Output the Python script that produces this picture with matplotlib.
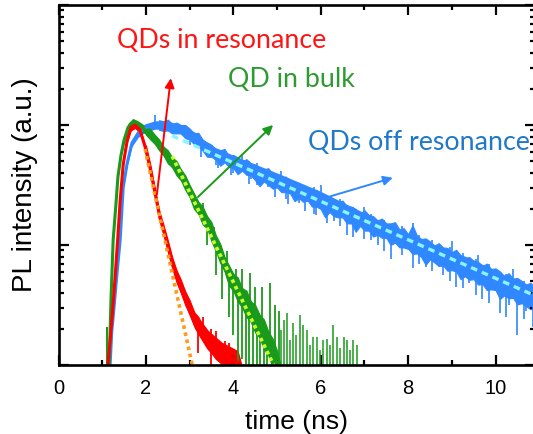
import numpy as np
import matplotlib
matplotlib.use("Agg")
import matplotlib.pyplot as plt

# PL-Abklingkurven, Werte als log10(Intensitaet) aus dem Bild abgelesen
# rot: QDs in Resonanz
t_red = [1.10, 1.13, 1.22, 1.29, 1.36, 1.41, 1.48, 1.57, 1.66, 1.75, 1.86, 1.98,
         2.09, 2.21, 2.32, 2.44, 2.60, 2.73, 2.89, 3.12, 3.42, 3.74, 4.11, 4.20]
red_log = [-2.2, -2.0, -1.63, -1.29, -0.92, -0.63, -0.33, -0.13, -0.02, 0.0, -0.04, -0.18,
           -0.35, -0.57, -0.77, -0.92, -1.15, -1.29, -1.43, -1.63, -1.79, -1.90, -1.98, -2.1]
red_spread = [0.02, 0.02, 0.02, 0.02, 0.02, 0.02, 0.02, 0.025, 0.03, 0.03, 0.03, 0.03,
              0.03, 0.03, 0.03, 0.035, 0.04, 0.05, 0.06, 0.07, 0.08, 0.09, 0.1, 0.1]
# verrauschter Bereich: obere / untere Kante
t_red_n = [2.0, 2.1, 2.2, 2.3, 2.4, 2.5, 2.6, 2.7, 2.8, 2.9, 3.0, 3.1,
           3.2, 3.3, 3.4, 3.5, 3.6, 3.7, 3.8, 3.9, 4.0, 4.1, 4.15]
red_hi = [-0.17, -0.33, -0.52, -0.71, -0.83, -0.96, -1.10, -1.21, -1.29, -1.39, -1.46, -1.56,
          -1.60, -1.68, -1.71, -1.76, -1.78, -1.83, -1.85, -1.90, -1.91, -1.95, -1.98]
red_lo = [-0.23, -0.40, -0.58, -0.78, -0.91, -1.05, -1.19, -1.31, -1.40, -1.50, -1.58, -1.67,
          -1.74, -1.80, -1.86, -1.90, -1.95, -1.98, -2.05, -2.05, -2.1, -2.1, -2.1]
red_spk_t = [3.2, 3.3, 3.5, 3.6, 3.8, 3.9, 4.0, 4.05, 4.15]
red_spk_lo = [-1.9, -1.75, -2.05, -1.85, -2.1, -1.95, -2.1, -2.05, -2.1]
red_spk_hi = [-1.62, -1.6, -1.7, -1.72, -1.8, -1.82, -1.88, -1.88, -1.95]
t_red_fit = [1.98, 3.06]
red_fit_log = [-0.2, -2.0]

# gruen: QD im Volumen
t_green = [1.14, 1.16, 1.20, 1.25, 1.32, 1.36, 1.43, 1.50, 1.59, 1.70, 1.82, 1.98, 2.21,
           2.51, 2.83, 3.12, 3.42, 3.70, 3.92, 4.15, 4.38, 4.61, 4.84, 5.02, 5.10]
green_log = [-2.2, -2.0, -1.46, -0.96, -0.63, -0.43, -0.25, -0.125, -0.02, 0.02, 0.0, -0.04, -0.125,
             -0.27, -0.43, -0.65, -0.82, -1.07, -1.27, -1.40, -1.54, -1.68, -1.85, -2.0, -2.1]
green_spread = [0.02, 0.02, 0.02, 0.02, 0.02, 0.02, 0.025, 0.03, 0.035, 0.035, 0.035, 0.035, 0.04,
                0.045, 0.05, 0.05, 0.055, 0.06, 0.07, 0.08, 0.09, 0.1, 0.1, 0.1, 0.1]
t_green_n = [2.0, 2.1, 2.2, 2.3, 2.4, 2.5, 2.6, 2.7, 2.8, 2.9, 3.0, 3.1, 3.2, 3.3, 3.4, 3.5,
             3.6, 3.7, 3.8, 3.9, 4.0, 4.1, 4.2, 4.3, 4.4, 4.5, 4.6, 4.7, 4.8, 4.9, 5.0]
green_hi = [-0.01, -0.035, -0.08, -0.12, -0.18, -0.21, -0.27, -0.30, -0.37, -0.42, -0.50, -0.57,
            -0.64, -0.68, -0.76, -0.81, -0.92, -0.99, -1.10, -1.17, -1.24, -1.27, -1.36, -1.38,
            -1.47, -1.50, -1.58, -1.62, -1.72, -1.78, -1.88]
green_lo = [-0.08, -0.12, -0.155, -0.21, -0.25, -0.32, -0.35, -0.42, -0.46, -0.54, -0.60, -0.70,
            -0.74, -0.83, -0.86, -0.97, -1.05, -1.15, -1.22, -1.34, -1.38, -1.47, -1.52, -1.60,
            -1.64, -1.73, -1.77, -1.87, -1.92, -2.02, -2.05]
green_spk_t = [3.3, 3.4, 3.55, 3.6, 3.75, 3.85, 3.9, 4.0, 4.05, 4.1, 4.2, 4.28, 4.36, 4.38,
               4.45, 4.5, 4.55, 4.62, 4.65, 4.7, 4.78, 4.84, 4.88, 4.95, 5.05]
green_spk_lo = [-0.8, -1.0, -1.0, -1.25, -1.45, -1.2, -1.6, -1.75, -1.35, -2.1, -1.95, -2.1, -2.1, -1.6,
                -2.1, -1.6, -2.1, -2.1, -1.75, -2.1, -2.1, -1.9, -2.1, -2.1, -2.1]
green_spk_hi = [-0.65, -0.8, -0.85, -1.05, -1.12, -1.05, -1.25, -1.3, -1.2, -1.35, -1.2, -1.45, -1.5, -1.23,
                -1.55, -1.35, -1.6, -1.65, -1.35, -1.7, -1.75, -1.32, -1.8, -1.5, -1.55]
green_tail_t = [5.09, 5.16, 5.23, 5.30, 5.37, 5.44, 5.53, 5.60, 5.69, 5.76, 5.82, 5.92, 5.99,
                6.06, 6.14, 6.21, 6.28, 6.37, 6.45, 6.53, 6.60, 6.67, 6.74, 6.83]
green_tail_top = [-1.71, -1.625, -1.57, -1.79, -1.65, -1.75, -1.58, -1.67, -1.71, -1.83, -1.77, -1.77, -1.875,
                  -1.79, -1.78, -1.83, -1.67, -1.77, -1.86, -1.77, -1.79, -1.875, -1.79, -1.83]
t_green_fit = [2.6, 4.95]
green_fit_log = [-0.26, -2.02]

# blau: QDs ausser Resonanz
t_blue = [1.16, 1.18, 1.22, 1.25, 1.34, 1.41, 1.45, 1.48, 1.57, 1.68, 1.82, 1.98, 2.21,
          2.44, 2.73, 3.12, 3.47, 4.15, 5.07, 5.98, 6.90, 7.88, 8.66, 9.42, 10.17, 10.95]
blue_log = [-2.2, -2.0, -1.71, -1.6, -1.23, -0.96, -0.71, -0.52, -0.32, -0.15, -0.07, -0.025, 0.0,
            0.0, -0.025, -0.1, -0.21, -0.32, -0.46, -0.60, -0.77, -0.96, -1.07, -1.18, -1.32, -1.44]
blue_spread = [0.02, 0.02, 0.02, 0.02, 0.02, 0.02, 0.02, 0.02, 0.025, 0.03, 0.035, 0.035, 0.035,
               0.035, 0.035, 0.04, 0.04, 0.045, 0.05, 0.05, 0.055, 0.06, 0.065, 0.07, 0.075, 0.08]
t_blue_n = [2.3, 2.4, 2.5, 2.6, 2.7, 2.8, 2.9, 3.0, 3.1, 3.2, 3.3, 3.4, 3.5, 3.6, 3.7, 3.8,
            3.9, 4.0, 4.1, 4.2, 4.3, 4.4, 4.5, 4.6, 4.7, 4.8, 4.9, 5.0, 5.1, 5.2, 5.3, 5.4,
            5.5, 5.6, 5.7, 5.8, 5.9, 6.0, 6.1, 6.2, 6.3, 6.4, 6.5, 6.6, 6.7, 6.8, 6.9, 7.0,
            7.1, 7.2, 7.3, 7.4, 7.5, 7.6, 7.7, 7.8, 7.9, 8.0, 8.1, 8.2, 8.3, 8.4, 8.5, 8.6,
            8.7, 8.8, 8.9, 9.0, 9.1, 9.2, 9.3, 9.4, 9.5, 9.6, 9.7, 9.8, 9.9, 10.0, 10.1, 10.2,
            10.3, 10.4, 10.5, 10.6, 10.7, 10.8, 10.9]
blue_hi = [0.04, 0.03, 0.045, 0.01, 0.02, 0.0, 0.0, -0.03, -0.07, -0.065, -0.125, -0.145, -0.165,
           -0.20, -0.21, -0.20, -0.26, -0.25, -0.27, -0.30, -0.285, -0.32, -0.33, -0.37, -0.37,
           -0.36, -0.41, -0.41, -0.44, -0.43, -0.48, -0.475, -0.50, -0.50, -0.52, -0.56, -0.54,
           -0.58, -0.59, -0.595, -0.64, -0.64, -0.63, -0.68, -0.68, -0.70, -0.74, -0.71, -0.75,
           -0.76, -0.795, -0.78, -0.82, -0.82, -0.81, -0.87, -0.86, -0.91, -0.835, -0.92, -0.95,
           -0.945, -0.97, -1.005, -0.985, -1.02, -1.025, -1.06, -1.04, -1.085, -1.11, -1.10,
           -1.135, -1.14, -1.175, -1.155, -1.20, -1.195, -1.22, -1.26, -1.235, -1.28, -1.275,
           -1.30, -1.33, -1.315, -1.35]
blue_lo = [-0.04, -0.05, -0.045, -0.07, -0.07, -0.07, -0.11, -0.12, -0.16, -0.175, -0.215, -0.265,
           -0.265, -0.29, -0.34, -0.31, -0.35, -0.36, -0.41, -0.38, -0.415, -0.42, -0.46, -0.51,
           -0.47, -0.50, -0.53, -0.52, -0.56, -0.56, -0.57, -0.635, -0.61, -0.64, -0.63, -0.68,
           -0.68, -0.70, -0.77, -0.725, -0.76, -0.77, -0.77, -0.82, -0.82, -0.89, -0.84, -0.88,
           -0.88, -0.93, -0.915, -0.94, -0.94, -1.00, -0.98, -1.02, -1.02, -1.03, -1.075, -1.07,
           -1.10, -1.165, -1.12, -1.145, -1.175, -1.17, -1.215, -1.21, -1.22, -1.285, -1.26,
           -1.29, -1.285, -1.33, -1.325, -1.375, -1.37, -1.375, -1.45, -1.42, -1.445, -1.44,
           -1.495, -1.485, -1.51, -1.535, -1.53]
blue_spk_t = [2.2, 3.0, 3.6, 4.0, 4.2, 4.4, 4.8, 5.1, 5.2, 5.5, 5.9, 6.0, 6.3, 6.6, 7.0,
              7.3, 7.6, 8.11, 8.4, 8.8, 9.0, 9.1, 9.4, 9.6, 9.7, 10.1, 10.3, 10.4, 10.5, 10.7,
              3.25, 3.65, 3.95, 4.35, 4.55, 4.95, 5.25, 5.65, 5.85, 6.15, 6.45, 6.75,
              7.15, 7.45, 7.85, 8.25, 8.55, 8.95, 9.25, 9.55, 9.85, 10.25, 10.65, 10.85]
blue_spk_lo = [0.0, -0.17, -0.33, -0.40, -0.33, -0.45, -0.52, -0.50, -0.62, -0.65, -0.75, -0.62, -0.80,
               -0.92, -0.95, -1.0, -1.12, -1.19, -1.18, -1.25, -1.12, -1.35, -1.32, -1.2, -1.45,
               -1.57, -1.50, -1.33, -1.75, -1.55,
               -0.27, -0.36, -0.42, -0.49, -0.50, -0.60, -0.66, -0.72, -0.74, -0.82, -0.84, -0.93,
               -0.96, -1.05, -1.08, -1.16, -1.22, -1.30, -1.36, -1.42, -1.48, -1.60, -1.62, -1.68]
blue_spk_hi = [0.08, -0.08, -0.25, -0.32, -0.24, -0.38, -0.45, -0.38, -0.51, -0.55, -0.62, -0.50, -0.69,
               -0.74, -0.68, -0.85, -0.90, -0.82, -1.02, -1.08, -0.97, -1.13, -1.18, -1.08, -1.23,
               -1.29, -1.32, -1.2, -1.35, -1.39,
               -0.10, -0.20, -0.25, -0.30, -0.32, -0.40, -0.44, -0.51, -0.52, -0.59, -0.62, -0.68,
               -0.74, -0.79, -0.84, -0.92, -0.96, -1.02, -1.07, -1.12, -1.16, -1.24, -1.30, -1.33]
t_blue_fit = [2.6, 10.95]
blue_fit_log = [-0.09, -1.43]

c_red, c_green, c_blue = "#ff0000", "#1a9a1a", "#2f88ff"

fig = plt.figure(figsize=(5.33, 4.34), dpi=100)
ax = fig.add_axes([0.1098, 0.159, 0.894, 0.8295])


def curve(t, lg, spread, col):
    t = np.array(t)
    lg = np.array(lg)
    sp = np.array(spread)
    ax.fill_between(t, 10 ** (lg - sp), 10 ** (lg + sp), color=col, lw=0)
    ax.plot(t, 10 ** lg, color=col, lw=2.2)


def band(t, hi, lo, col):
    ax.fill_between(t, 10 ** np.array(lo), 10 ** np.array(hi), color=col, lw=0.8, edgecolor=col)


def spikes(t, lo, hi, col, lw=1.3):
    ax.vlines(t, 10 ** np.array(lo), 10 ** np.array(hi), color=col, lw=lw)


curve(t_blue, blue_log, blue_spread, c_blue)
band(t_blue_n, blue_hi, blue_lo, c_blue)
spikes(blue_spk_t, blue_spk_lo, blue_spk_hi, c_blue, lw=1.2)
curve(t_green, green_log, green_spread, c_green)
band(t_green_n, green_hi, green_lo, c_green)
spikes(green_spk_t, green_spk_lo, green_spk_hi, c_green)
spikes(green_tail_t, [-2.1] * len(green_tail_t), green_tail_top, c_green, lw=1.1)
spikes([1.10], [-2.1], [-1.68], c_green, lw=1.5)
curve(t_red, red_log, red_spread, c_red)
band(t_red_n, red_hi, red_lo, c_red)
spikes(red_spk_t, red_spk_lo, red_spk_hi, c_red)

# Fits
ax.plot(t_red_fit, 10 ** np.array(red_fit_log), color="#ff9a1a", lw=2.6, ls=(0, (1, 1)))
ax.plot(t_green_fit, 10 ** np.array(green_fit_log), color="#c8ff30", lw=2.6, ls=(0, (1, 1)))
ax.plot(t_blue_fit, 10 ** np.array(blue_fit_log), color="#8af5ff", lw=2.4, ls=(0, (2, 1.5)))

# Pfeile
arr = dict(arrowstyle="-|>", lw=1.4, mutation_scale=14, shrinkA=0, shrinkB=0)
ax.annotate("", xy=(2.57, 10 ** 0.39), xytext=(2.25, 10 ** -0.58),
            arrowprops=dict(arr, color=c_red))
ax.annotate("", xy=(4.91, 10 ** 0.0), xytext=(3.19, 10 ** -0.6),
            arrowprops=dict(arr, color=c_green))
ax.annotate("", xy=(7.65, 10 ** -0.44), xytext=(6.17, 10 ** -0.6),
            arrowprops=dict(arr, color=c_blue))

ax.text(3.74, 10 ** 0.708, "QDs in resonance", color="#ff1414", fontsize=19.3,
        family="Lato", ha="center", va="center")
ax.text(5.32, 10 ** 0.375, "QD in bulk", color="#2e9a32", fontsize=19.3,
        family="Lato", ha="center", va="center")
ax.text(8.25, 10 ** -0.15, "QDs off resonance", color="#1f78c8", fontsize=19.3,
        family="Lato", ha="center", va="center")

ax.set_yscale("log")
ax.set_xlim(0, 10.904)
ax.set_ylim(1e-2, 10)
ax.set_xticks([0, 2, 4, 6, 8, 10])
ax.set_xticks([1, 3, 5, 7, 9], minor=True)
ax.set_xticklabels(["0", "2", "4", "6", "8", "10"], family="Liberation Sans", fontsize=14.5)
ax.yaxis.set_major_locator(matplotlib.ticker.LogLocator(base=10, numticks=10))
ax.yaxis.set_minor_locator(matplotlib.ticker.LogLocator(base=10, subs=np.arange(2, 10), numticks=10))
ax.yaxis.set_major_formatter(matplotlib.ticker.NullFormatter())
ax.yaxis.set_minor_formatter(matplotlib.ticker.NullFormatter())
ax.tick_params(which="both", direction="in", top=True, right=True, width=1.6, pad=10)
ax.tick_params(which="major", length=7)
ax.tick_params(which="minor", length=3.5)
for s in ax.spines.values():
    s.set_linewidth(1.9)

ax.set_xlabel("time (ns)", family="Liberation Sans", fontsize=19, labelpad=9)
ax.set_ylabel("PL intensity (a.u.)", family="Liberation Sans", fontsize=20, labelpad=5)

fig.savefig("out.png", dpi=100)
